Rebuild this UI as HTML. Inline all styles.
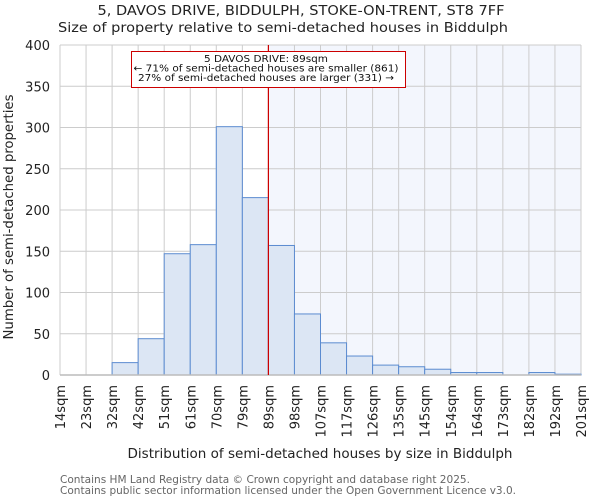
<!DOCTYPE html>
<html><head><meta charset="utf-8"><style>
body{margin:0;background:#fff;}
svg{display:block;font-family:"DejaVu Sans","Liberation Sans",sans-serif;}
</style></head><body>
<svg id="chart" width="600" height="500">
<text x="301" y="15" text-anchor="middle" font-size="13" textLength="407" lengthAdjust="spacingAndGlyphs" fill="#222">5, DAVOS DRIVE, BIDDULPH, STOKE-ON-TRENT, ST8 7FF</text>
<text x="283" y="32" text-anchor="middle" font-size="13" textLength="450" lengthAdjust="spacingAndGlyphs" fill="#222">Size of property relative to semi-detached houses in Biddulph</text>
<g id="plot"></g>
<text transform="translate(13,217) rotate(-90)" text-anchor="middle" font-size="13" textLength="245" lengthAdjust="spacingAndGlyphs" fill="#222">Number of semi-detached properties</text>
<text x="320" y="458" text-anchor="middle" font-size="13" textLength="385" lengthAdjust="spacingAndGlyphs" fill="#222">Distribution of semi-detached houses by size in Biddulph</text>
<text x="60" y="483" font-size="10.5" textLength="410" lengthAdjust="spacingAndGlyphs" fill="#666">Contains HM Land Registry data © Crown copyright and database right 2025.</text>
<text x="60" y="494" font-size="10.5" textLength="456" lengthAdjust="spacingAndGlyphs" fill="#666">Contains public sector information licensed under the Open Government Licence v3.0.</text>
</svg>
<script>
const edgeLabels=["14sqm","23sqm","32sqm","42sqm","51sqm","61sqm","70sqm","79sqm","89sqm","98sqm","107sqm","117sqm","126sqm","135sqm","145sqm","154sqm","164sqm","173sqm","182sqm","192sqm","201sqm"];
const counts=[0,0,15,44,147,158,301,215,157,74,39,23,12,10,7,3,3,0,3,1];
const yTicks=[0,50,100,150,200,250,300,350,400];
const markerIndex=8;
const NS="http://www.w3.org/2000/svg";
const L=60,R=581,T=45,B=375,YMAX=400;
const n=counts.length;
const x=i=>L+(R-L)*i/n;
const y=v=>B-(B-T)*v/YMAX;
const g=document.getElementById('plot');
function mk(t,a){const e=document.createElementNS(NS,t);for(const k in a)e.setAttribute(k,a[k]);g.appendChild(e);return e;}
let e=mk('rect',{x:x(markerIndex),y:T,width:R-x(markerIndex),height:B-T,fill:'#f3f6fd'});


for(let i=0;i<=n;i++){e=mk('line',{x1:x(i),x2:x(i),y1:T,y2:B,stroke:'#ccc','stroke-width':1});

}
yTicks.forEach(v=>{e=mk('line',{x1:L,x2:R,y1:y(v),y2:y(v),stroke:'#ccc','stroke-width':1});


e=mk('text',{x:L-10,y:y(v)+5,'text-anchor':'end','font-size':13,fill:'#222'});e.textContent=v;

});
counts.forEach((c,i)=>{if(c<=0)return;e=mk('rect',{x:x(i),y:y(c),width:x(i+1)-x(i),height:B-y(c),fill:'#dce6f4',stroke:'#5b8bd0','stroke-width':1});

});
edgeLabels.forEach((l,i)=>{e=mk('text',{transform:`translate(${x(i)+5},385) rotate(-90)`,'text-anchor':'end','font-size':13,fill:'#222'});e.textContent=l;

});
e=mk('line',{x1:L,x2:R,y1:B,y2:B,stroke:'#bbb','stroke-width':1.5});


e=mk('line',{x1:x(markerIndex),x2:x(markerIndex),y1:T,y2:B,stroke:'#c00','stroke-width':1.2});


e=mk('rect',{x:131.5,y:51.5,width:274,height:36,fill:'#fff',stroke:'#c00','stroke-width':1});


const annLines=["5 DAVOS DRIVE: 89sqm","← 71% of semi-detached houses are smaller (861)","27% of semi-detached houses are larger (331) →"];
const annLens=[124,265,256];
annLines.forEach((t,i)=>{e=mk('text',{x:266,y:62+i*9.6,'text-anchor':'middle','font-size':10,textLength:annLens[i],lengthAdjust:'spacingAndGlyphs',fill:'#111'});e.textContent=t;

});
</script>
</body></html>
